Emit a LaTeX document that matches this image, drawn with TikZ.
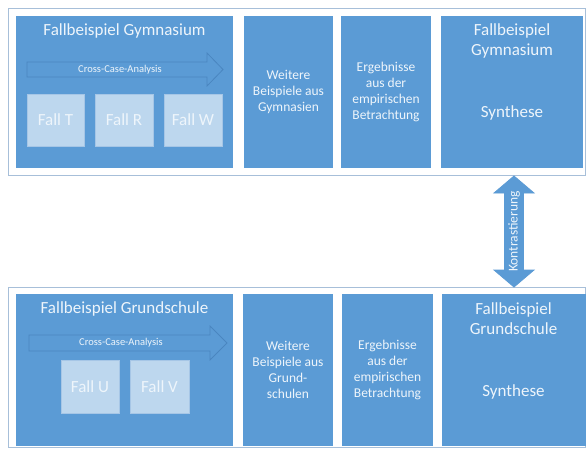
\documentclass[tikz,border=0pt]{standalone}
\usepackage{fontspec}
\setmainfont{Carlito}
\definecolor{boxblue}{HTML}{5B9BD5}
\definecolor{arrowline}{HTML}{4A86C0}
\definecolor{fallfill}{HTML}{BDD7EE}
\definecolor{fallline}{HTML}{A6C6E6}
\definecolor{frameline}{HTML}{A7BFD9}
\definecolor{textc}{HTML}{EEF5FB}
\begin{document}
\begin{tikzpicture}[x=1pt,y=-1pt,
  frame/.style={draw=frameline, line width=1pt},
  panel/.style={fill=boxblue, draw=none, inner sep=0pt, minimum height=152pt},
  fallbox/.style={fill=fallfill, draw=fallline, line width=0.8pt, inner sep=0pt,
    minimum height=52pt, text=textc, font=\fontsize{17}{20}\selectfont},
  titletext/.style={text=textc, inner sep=0pt, align=center, font=\fontsize{17}{20}\selectfont},
  boxtext/.style={text=textc, inner sep=0pt, align=center, font=\fontsize{13.5}{16}\selectfont},
  catext/.style={text=textc, inner sep=0pt, font=\fontsize{10.5}{12}\selectfont},
  blockarrow/.style={fill=boxblue, draw=arrowline, line width=0.8pt, line join=miter}]
\useasboundingbox (0,0) rectangle (586,448);
\fill[white] (0,0) rectangle (586,448);

% ---------- upper row: Gymnasium ----------
\draw[frame] (8,8) rectangle (585,175);
\node[panel, minimum width=217pt] (gymCase) at (124.5,92) {};
\node[panel, minimum width=89pt] (gymMore) at (288.5,92) {};
\node[panel, minimum width=90pt] (gymRes) at (386,92) {};
\node[panel, minimum width=142pt] (gymSyn) at (512,92) {};

\node[titletext] (gymTitle) at (124.5,31) {Fallbeispiel Gymnasium};
\draw[blockarrow] (27,62) -- (207,62) -- (207,53) -- (223,69.5) -- (207,86) -- (207,77) -- (27,77) -- cycle;
\node[catext] (gymCA) at (120,69.5) {Cross-Case-Analysis};
\node[fallbox, minimum width=57pt] (fallT) at (55.5,120) {Fall T};
\node[fallbox, minimum width=58pt] (fallR) at (124,120) {Fall R};
\node[fallbox, minimum width=58pt] (fallW) at (193,120) {Fall W};

\node[boxtext] (gymMoreText) at (gymMore) {Weitere\\Beispiele aus\\Gymnasien};
\node[boxtext] (gymResText) at (gymRes) {Ergebnisse\\aus der\\empirischen\\Betrachtung};
\node[titletext] (gymSynTitle) at (512,41) {Fallbeispiel\\Gymnasium};
\node[titletext] (gymSynText) at (512,113) {Synthese};

% ---------- lower row: Grundschule ----------
\draw[frame] (8,287) rectangle (585,447);
\node[panel, minimum width=217pt] (gsCase) at (124.5,370) {};
\node[panel, minimum width=90pt] (gsMore) at (288,370) {};
\node[panel, minimum width=91pt] (gsRes) at (387.5,370) {};
\node[panel, minimum width=145pt] (gsSyn) at (514.5,370) {};

\node[titletext] (gsTitle) at (124.5,309) {Fallbeispiel Grundschule};
\draw[blockarrow] (29,335) -- (210,335) -- (210,326) -- (227,343) -- (210,360) -- (210,351) -- (29,351) -- cycle;
\node[catext] (gsCA) at (121,343) {Cross-Case-Analysis};
\node[fallbox, minimum width=58pt, minimum height=53pt] (fallU) at (90,386.5) {Fall U};
\node[fallbox, minimum width=59pt, minimum height=53pt] (fallV) at (159.5,386.5) {Fall V};

\node[boxtext] (gsMoreText) at (gsMore) {Weitere\\Beispiele aus\\Grund-\\schulen};
\node[boxtext] (gsResText) at (gsRes) {Ergebnisse\\aus der\\empirischen\\Betrachtung};
\node[titletext] (gsSynTitle) at (513.5,319) {Fallbeispiel\\Grundschule};
\node[titletext] (gsSynText) at (513.5,392) {Synthese};

% ---------- contrast between the two syntheses ----------
\draw[blockarrow, draw=boxblue] (514,176) -- (534,193) -- (523.5,193) -- (523.5,270) -- (534,270)
  -- (514,287) -- (494,270) -- (504.5,270) -- (504.5,193) -- (494,193) -- cycle;
\node[text=textc, inner sep=0pt, rotate=90, font=\fontsize{13.5}{15}\selectfont]
  (contrast) at (514,231.5) {Kontrastierung};
\end{tikzpicture}
\end{document}
